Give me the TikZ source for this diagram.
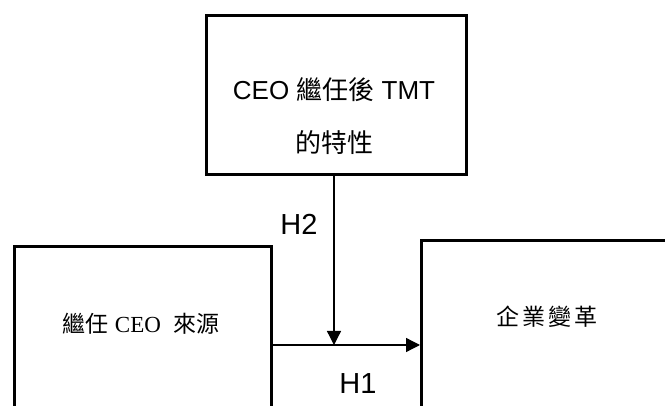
\documentclass[tikz,border=0pt]{standalone}
\usepackage{fontspec}
\setmainfont{Liberation Sans}
\newfontfamily\cjk{Noto Sans CJK TC}
\newfontfamily\serifrm{Liberation Serif}
\usetikzlibrary{arrows.meta}
\begin{document}
\begin{tikzpicture}[x=1pt,y=-1pt,
  box/.style={draw,line width=3pt,rectangle,inner sep=0pt,anchor=north west},
  conn/.style={line width=1.3pt,-{Triangle[length=14pt,width=14pt]}},
  lbl/.style={font=\fontsize{29}{29}\selectfont,inner sep=0pt}]
\clip (0,0) rectangle (665,406);
\fill[white] (0,0) rectangle (665,406);
\node[box,minimum width=260pt,minimum height=159pt] (top) at (205,14) {};
\node[box,minimum width=257pt,minimum height=200pt] (left) at (13,245) {};
\node[box,minimum width=300pt,minimum height=200pt] (right) at (420,239) {};
\node[inner sep=0pt,font=\fontsize{26}{26}\selectfont] (t1) at (334,90) {CEO {\cjk 繼任後} TMT};
\node[inner sep=0pt,font=\fontsize{26}{26}\selectfont] (t2) at (334,143) {\cjk 的特性};
\node[inner sep=0pt,font=\fontsize{23}{23}\selectfont] (lt) at (141,324) {{\cjk 繼任} {\serifrm CEO}\hspace{6pt} {\cjk 來源}};
\node[inner sep=0pt,font=\fontsize{23}{23}\selectfont] (rt) at (547,317) {\cjk 企\hspace{3pt}業\hspace{3pt}變\hspace{3pt}革};
\coordinate (j) at (334,345);
\draw[conn] (left.north east |- j) -- (right.north west |- j);
\draw[conn] (top.south -| j) -- (j);
\node[lbl] (h2) at (299,224) {H2};
\node[lbl] (h1) at (358,384) {H1};
\end{tikzpicture}
\end{document}
